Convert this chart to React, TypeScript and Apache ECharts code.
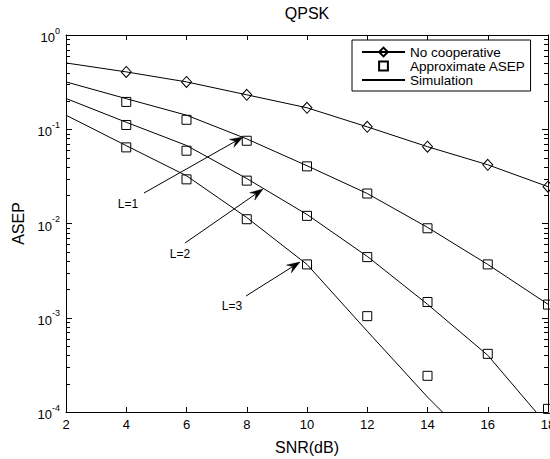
import React, { useEffect, useRef } from "react";
import * as echarts from "echarts";

// ---- data ----
const SNR = [2, 4, 6, 8, 10, 12, 14, 16, 18];
const APPROX_SNR = [4, 6, 8, 10, 12, 14, 16, 18];
const X_TICKS = [2, 4, 6, 8, 10, 12, 14, 16, 18];
const Y_DECADES = [1e-4, 1e-3, 1e-2, 1e-1, 1];

const noCoop = [0.505, 0.406, 0.318, 0.232, 0.169, 0.106, 0.0653, 0.042, 0.0246];
const simL1 = [0.318, 0.211, 0.141, 0.079, 0.041, 0.0208, 0.0091, 0.00368, 0.00139];
const simL2 = [0.212, 0.1186, 0.0673, 0.03, 0.01245, 0.00448, 0.00139, 0.0004, 0.000071];
const simL3 = [0.141, 0.067, 0.0321, 0.01157, 0.00368, 0.00072, 0.000144, 0.000033];
const approxL1 = [0.195, 0.126, 0.0755, 0.0404, 0.0208, 0.0089, 0.00368, 0.00138];
const approxL2 = [0.111, 0.0592, 0.0285, 0.01206, 0.0044, 0.00147, 0.000414, 0.000108];
const approxL3 = [0.0642, 0.0294, 0.0111, 0.00368, 0.00104, 0.000242];

const ANNOTATIONS = [
  { label: "L=1", from: [144, 193], to: [243, 137], text: [128, 204] },
  { label: "L=2", from: [185, 243], to: [263, 189], text: [180, 254] },
  { label: "L=3", from: [246, 296], to: [300, 262], text: [232, 306] },
];

const FONT = "'Liberation Sans', Arial, Helvetica, sans-serif";

function pairs(xs: number[], ys: number[]) {
  return ys.map((y, i) => [xs[i], y]);
}

function minorTickValues() {
  const out: number[][] = [];
  for (let d = 0; d < Y_DECADES.length - 1; d++) {
    for (let k = 2; k <= 9; k++) out.push([2, Y_DECADES[d] * k]);
  }
  return out;
}

function arrowGraphics() {
  const els: any[] = [];
  ANNOTATIONS.forEach((a) => {
    const [x1, y1] = a.from;
    const [x2, y2] = a.to;
    const dx = x2 - x1, dy = y2 - y1;
    const len = Math.sqrt(dx * dx + dy * dy);
    const ux = dx / len, uy = dy / len;
    const nx = -uy, ny = ux;
    const L = 13, W = 4.5;
    const bx = x2 - ux * L, by = y2 - uy * L;
    const notchX = x2 - ux * L * 0.65, notchY = y2 - uy * L * 0.65;
    els.push({
      type: "line",
      shape: { x1, y1, x2: notchX, y2: notchY },
      style: { stroke: "#000", lineWidth: 1 },
      z: 100,
    });
    els.push({
      type: "polygon",
      shape: {
        points: [
          [x2, y2],
          [bx + nx * W, by + ny * W],
          [notchX, notchY],
          [bx - nx * W, by - ny * W],
        ],
      },
      style: { fill: "#000", stroke: "#000", lineWidth: 0.5 },
      z: 100,
    });
    els.push({
      type: "text",
      x: a.text[0],
      y: a.text[1],
      style: {
        text: a.label,
        fill: "#000",
        font: `12px ${FONT}`,
        align: "center",
        verticalAlign: "middle",
        textAlign: "center",
        textVerticalAlign: "middle",
      },
      z: 100,
    });
  });
  els.push({
    type: "text",
    x: 307,
    y: 13,
    style: {
      text: "QPSK",
      fill: "#000",
      font: `16px ${FONT}`,
      align: "center",
      verticalAlign: "middle",
      textAlign: "center",
      textVerticalAlign: "middle",
    },
    z: 100,
  });
  return els;
}

const axisCommon = {
  axisLine: { show: true, lineStyle: { color: "#000", width: 1 } },
  splitLine: { show: false },
};

export default function App() {
  const ref = useRef<HTMLDivElement>(null);

  useEffect(() => {
    if (!ref.current) return;
    const chart = echarts.init(ref.current, null, { renderer: "svg" });

    const simStyle = {
      type: "line",
      name: "Simulation",
      symbol: "none",
      lineStyle: { color: "#000", width: 1 },
      itemStyle: { color: "#000" },
      z: 3,
    };
    const approxStyle = {
      type: "line",
      name: "Approximate ASEP",
      symbol: "rect",
      symbolSize: 9,
      showAllSymbol: true,
      lineStyle: { width: 0, opacity: 0, color: "#000" },
      itemStyle: { color: "rgba(0,0,0,0)", borderColor: "#000", borderWidth: 1 },
      z: 4,
    };

    const option: any = {
      animation: false,
      backgroundColor: "#fff",
      textStyle: { fontFamily: FONT },
      grid: {
        left: 66,
        right: 2,
        top: 35,
        bottom: 47,
        containLabel: false,
        outerBoundsMode: "none",
      },
      legend: {
        orient: "vertical",
        left: 352,
        top: 40,
        itemWidth: 43,
        itemHeight: 11,
        itemGap: 0,
        padding: [5, 5, 4, 9],
        borderColor: "#000",
        borderWidth: 1,
        borderRadius: 0,
        backgroundColor: "#fff",
        selectedMode: false,
        textStyle: { fontSize: 13.5, fontFamily: FONT, color: "#000" },
        data: [
          { name: "No cooperative" },
          { name: "Approximate ASEP" },
          { name: "Simulation", itemStyle: { opacity: 0 } },
        ],
        z: 50,
      },
      xAxis: [
        {
          type: "value",
          min: 2,
          max: 18,
          interval: 2,
          position: "bottom",
          name: "SNR(dB)",
          nameLocation: "middle",
          nameGap: 27,
          nameTextStyle: { fontSize: 16, color: "#000", fontFamily: FONT },
          ...axisCommon,
          axisTick: { show: true, inside: true, length: 5, lineStyle: { color: "#000" } },
          axisLabel: {
            show: true,
            margin: 6,
            fontSize: 13,
            color: "#000",
            fontFamily: FONT,
            customValues: X_TICKS,
          },
        },
        {
          type: "value",
          min: 2,
          max: 18,
          interval: 2,
          position: "top",
          ...axisCommon,
          axisTick: { show: true, inside: true, length: 5, lineStyle: { color: "#000" } },
          axisLabel: { show: false },
        },
      ],
      yAxis: [
        {
          type: "log",
          logBase: 10,
          min: 1e-4,
          max: 1,
          position: "left",
          name: "ASEP",
          nameLocation: "middle",
          nameGap: 36,
          nameTextStyle: { fontSize: 16, color: "#000", fontFamily: FONT },
          ...axisCommon,
          axisTick: { show: true, inside: true, length: 6, lineStyle: { color: "#000" } },
          axisLabel: {
            show: true,
            margin: 6,
            formatter: (v: number) => {
              const e = Math.round(Math.log10(v));
              return `{b|10}{s|${e}}`;
            },
            rich: {
              b: { fontSize: 13, color: "#000", fontFamily: FONT, verticalAlign: "bottom", lineHeight: 18 },
              s: { fontSize: 9, color: "#000", fontFamily: FONT, verticalAlign: "top", lineHeight: 18 },
            },
          },
        },
        {
          type: "log",
          logBase: 10,
          min: 1e-4,
          max: 1,
          position: "right",
          ...axisCommon,
          axisTick: { show: true, inside: true, length: 6, lineStyle: { color: "#000" } },
          axisLabel: { show: false },
        },
      ],
      graphic: { elements: arrowGraphics() },
      series: [
        {
          type: "line",
          name: "No cooperative",
          symbol: "diamond",
          symbolSize: [10, 11],
          showAllSymbol: true,
          lineStyle: { color: "#000", width: 1 },
          itemStyle: { color: "rgba(0,0,0,0)", borderColor: "#000", borderWidth: 1 },
          data: pairs(SNR, noCoop).map((p, i) =>
            i === 0 ? { value: p, symbol: "none" } : { value: p }
          ),
          z: 4,
        },
        { ...simStyle, data: pairs(SNR, simL1) },
        { ...simStyle, data: pairs(SNR, simL2) },
        { ...simStyle, data: pairs(SNR, simL3) },
        { ...approxStyle, data: pairs(APPROX_SNR, approxL1) },
        { ...approxStyle, data: pairs(APPROX_SNR, approxL2) },
        { ...approxStyle, data: pairs(APPROX_SNR, approxL3) },
        {
          type: "custom",
          name: "minorTicks",
          silent: true,
          renderItem: (_p: any, api: any) => {
            const v = api.value(1);
            const pl = api.coord([2, v]);
            const pr = api.coord([18, v]);
            const y = Math.round(pl[1]) + 0.5;
            return {
              type: "group",
              children: [
                { type: "line", shape: { x1: pl[0], y1: y, x2: pl[0] + 4, y2: y }, style: { stroke: "#000", lineWidth: 1 } },
                { type: "line", shape: { x1: pr[0] - 4, y1: y, x2: pr[0], y2: y }, style: { stroke: "#000", lineWidth: 1 } },
              ],
            };
          },
          data: minorTickValues(),
          z: 2,
        },
      ],
    };

    chart.setOption(option);
    return () => chart.dispose();
  }, []);

  return <div ref={ref} style={{ width: 550, height: 459, position: "absolute", left: 0, top: 0 }} />;
}
